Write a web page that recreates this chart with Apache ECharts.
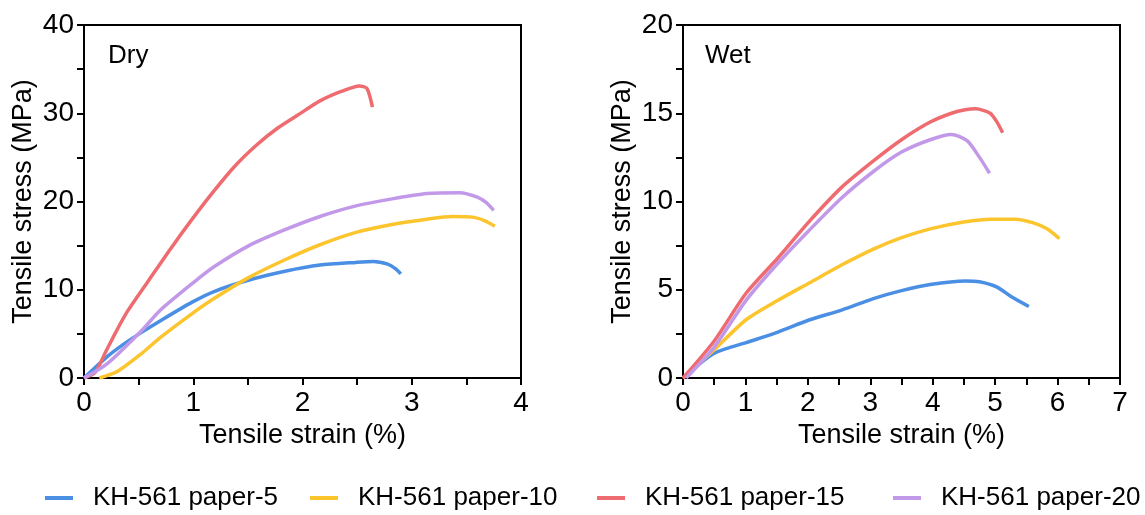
<!DOCTYPE html>
<html>
<head>
<meta charset="utf-8">
<script src="https://cdn.jsdelivr.net/npm/echarts@6/dist/echarts.min.js"></script>
<style>
html,body{margin:0;padding:0;background:#fff;}
#c{width:1145px;height:515px;}
</style>
</head>
<body>
<div id="c"></div>
<script>
// ---- Data ----
const seriesNames = ['KH-561 paper-5', 'KH-561 paper-10', 'KH-561 paper-15', 'KH-561 paper-20'];
const colors = ['#4A8FE3', '#FCC42D', '#EE6B70', '#C299E8'];

// Dry panel
const dryStrain5  = [0, 0.21, 0.37, 0.53, 0.70, 0.99, 1.19, 1.51, 1.84, 2.16, 2.49, 2.65, 2.78, 2.85, 2.90];
const dryStress5  = [0, 2.4, 3.9, 5.2, 6.5, 8.6, 9.8, 11.1, 12.1, 12.8, 13.1, 13.2, 12.9, 12.4, 11.8];
const dryStrain10 = [0.14, 0.30, 0.53, 0.70, 0.99, 1.19, 1.51, 1.84, 2.16, 2.49, 2.82, 3.14, 3.37, 3.57, 3.67, 3.76];
const dryStress10 = [0, 0.7, 2.8, 4.6, 7.3, 9.0, 11.4, 13.4, 15.1, 16.5, 17.4, 18.0, 18.3, 18.2, 17.8, 17.2];
const dryStrain15 = [0, 0.1, 0.2, 0.3, 0.40, 0.60, 0.79, 0.99, 1.19, 1.38, 1.58, 1.77, 1.97, 2.16, 2.36, 2.52, 2.59, 2.64];
const dryStress15 = [0, 0.6, 3.0, 5.4, 7.6, 11.2, 14.6, 18.0, 21.2, 24.0, 26.4, 28.3, 29.9, 31.4, 32.5, 33.1, 32.8, 30.7];
const dryStrain20 = [0, 0.21, 0.53, 0.70, 0.99, 1.19, 1.51, 1.84, 2.16, 2.49, 2.82, 3.14, 3.44, 3.60, 3.68, 3.75];
const dryStress20 = [0, 1.6, 5.4, 7.7, 10.7, 12.6, 15.0, 16.8, 18.3, 19.5, 20.3, 20.9, 21.0, 20.5, 19.9, 19.0];

// Wet panel
const wetStrain5  = [0, 0.5, 1.01, 1.52, 2.03, 2.54, 3.05, 3.5, 3.96, 4.52, 4.75, 5.03, 5.26, 5.54];
const wetStress5  = [0, 1.4, 2.0, 2.6, 3.3, 3.85, 4.5, 4.95, 5.3, 5.5, 5.45, 5.15, 4.6, 4.05];
const wetStrain10 = [0, 0.5, 1.01, 1.52, 2.03, 2.54, 3.05, 3.5, 3.96, 4.52, 4.92, 5.32, 5.6, 5.83, 6.03];
const wetStress10 = [0, 1.6, 3.3, 4.4, 5.4, 6.4, 7.3, 7.95, 8.45, 8.85, 9.0, 9.0, 8.8, 8.45, 7.9];
const wetStrain15 = [0, 0.5, 1.01, 1.52, 2.03, 2.54, 3.05, 3.5, 3.96, 4.3, 4.52, 4.69, 4.92, 5.03, 5.12];
const wetStress15 = [0, 2.1, 4.8, 6.8, 8.9, 10.8, 12.3, 13.5, 14.5, 15.0, 15.2, 15.25, 15.0, 14.5, 13.9];
const wetStrain20 = [0.05, 0.5, 1.01, 1.52, 2.03, 2.54, 3.05, 3.5, 3.96, 4.3, 4.55, 4.75, 4.91];
const wetStress20 = [0, 1.75, 4.4, 6.5, 8.4, 10.2, 11.7, 12.8, 13.5, 13.8, 13.45, 12.5, 11.6];

const panelLabels = ['Dry', 'Wet'];
const xAxisTitle = 'Tensile strain (%)';
const yAxisTitle = 'Tensile stress (MPa)';

// ---- Build ----
const FONT = '"Liberation Sans", Arial, sans-serif';
function pairs(xs, ys) { return xs.map((x, i) => [x, ys[i]]); }

const dryData = [pairs(dryStrain5, dryStress5), pairs(dryStrain10, dryStress10), pairs(dryStrain15, dryStress15), pairs(dryStrain20, dryStress20)];
const wetData = [pairs(wetStrain5, wetStress5), pairs(wetStrain10, wetStress10), pairs(wetStrain15, wetStress15), pairs(wetStrain20, wetStress20)];

const tickStyle = { color: '#000', width: 2 };
function xAxis(gridIndex, max) {
  return {
    type: 'value', gridIndex, min: 0, max, interval: 1,
    name: xAxisTitle, nameLocation: 'middle', nameGap: 38,
    nameTextStyle: { fontSize: 27, color: '#000', fontFamily: FONT },
    axisLine: { show: true, onZero: false, lineStyle: tickStyle },
    axisTick: { show: true, length: 7, lineStyle: tickStyle },
    minorTick: { show: true, splitNumber: 2, length: 7, lineStyle: tickStyle },
    axisLabel: { fontSize: 28, color: '#000', fontFamily: FONT, margin: 11 },
    splitLine: { show: false }
  };
}
function yAxis(gridIndex, max, interval) {
  return {
    type: 'value', gridIndex, min: 0, max, interval,
    name: yAxisTitle, nameLocation: 'middle', nameGap: 47,
    nameTextStyle: { fontSize: 27, color: '#000', fontFamily: FONT },
    axisLine: { show: true, onZero: false, lineStyle: tickStyle },
    axisTick: { show: true, length: 7, lineStyle: tickStyle },
    minorTick: { show: true, splitNumber: 2, length: 7, lineStyle: tickStyle },
    axisLabel: { fontSize: 28, color: '#000', fontFamily: FONT, margin: 10 },
    splitLine: { show: false }
  };
}

const series = [];
[dryData, wetData].forEach((set, gi) => {
  set.forEach((d, si) => {
    series.push({
      name: seriesNames[si], type: 'line', xAxisIndex: gi, yAxisIndex: gi,
      data: d, showSymbol: false, symbol: 'none', smooth: 0.25,
      lineStyle: { color: colors[si], width: 3.5 }, itemStyle: { color: colors[si] },
      z: 3
    });
  });
});

const legendLefts = [45, 310, 597, 893];
const legends = seriesNames.map((n, i) => ({
  data: [n], left: legendLefts[i], top: 485, icon: 'rect', padding: 0,
  itemWidth: 28, itemHeight: 4,
  textStyle: { fontSize: 26, color: '#000', fontFamily: FONT, padding: [0, 0, 0, 15] }
}));

const option = {
  animation: false,
  backgroundColor: '#fff',
  textStyle: { fontFamily: FONT },
  grid: [
    { left: 84, right: 624, top: 25, bottom: 137, show: true, borderColor: '#000', borderWidth: 2, backgroundColor: 'transparent' },
    { left: 683, right: 25, top: 25, bottom: 137, show: true, borderColor: '#000', borderWidth: 2, backgroundColor: 'transparent' }
  ],
  xAxis: [xAxis(0, 4), xAxis(1, 7)],
  yAxis: [yAxis(0, 40, 10), yAxis(1, 20, 5)],
  legend: legends,
  graphic: [
    { type: 'text', left: 108, top: 43, style: { text: panelLabels[0], font: '26px ' + FONT, fill: '#000' } },
    { type: 'text', left: 705, top: 43, style: { text: panelLabels[1], font: '26px ' + FONT, fill: '#000' } }
  ],
  series
};

const chart = echarts.init(document.getElementById('c'), null, { renderer: 'canvas' });
chart.setOption(option);
</script>
</body>
</html>
